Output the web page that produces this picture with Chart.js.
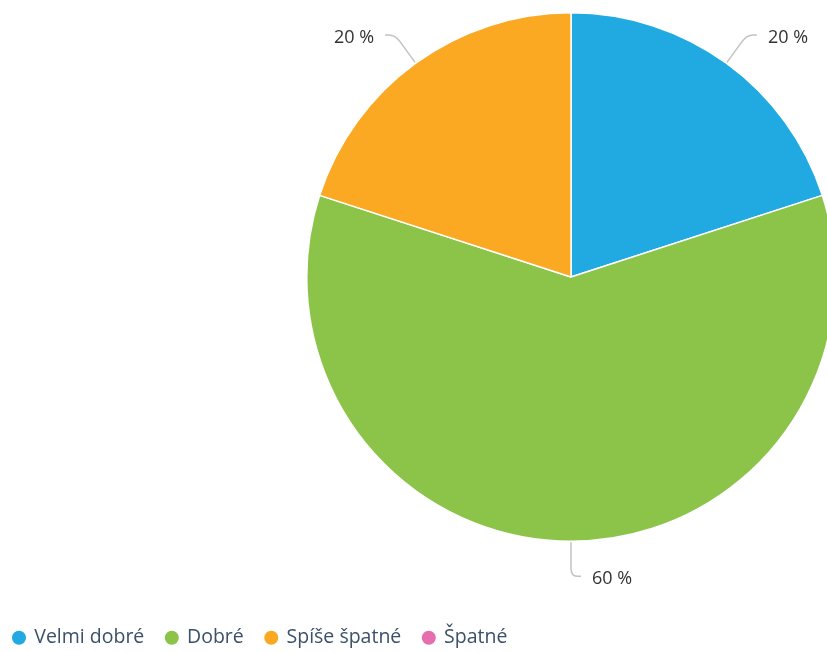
<!DOCTYPE html>
<html>
<head>
<meta charset="utf-8">
<script src="https://cdn.jsdelivr.net/npm/chart.js@4/dist/chart.umd.min.js"></script>
<style>
html,body{margin:0;padding:0;background:#fff;overflow:hidden;width:827px;height:652px;}
#wrap{position:absolute;left:0;top:0;width:1142px;height:652px;}
</style>
</head>
<body>
<div id="wrap"><canvas id="c" width="1142" height="652"></canvas></div>
<script>
const categories = ["Velmi dobré", "Dobré", "Spíše špatné", "Špatné"];
const values = [20, 60, 20, 0];
const colors = ["#21a9e1", "#8bc449", "#fba823", "#e56fae"];

const areaPlugin = {
  id: 'area',
  afterLayout(chart) {
    const a = chart.chartArea;
    a.left = 0; a.right = 1142; a.width = 1142;
    a.top = 12; a.bottom = 542; a.height = 530;
  }
};

const labelPlugin = {
  id: 'outLabels',
  afterDatasetsDraw(chart) {
    const ctx = chart.ctx;
    const meta = chart.getDatasetMeta(0);
    const total = values.reduce((a, b) => a + b, 0);
    meta.data.forEach((arc, i) => {
      const v = values[i];
      if (!v) return;
      const p = arc.getProps(['x', 'y', 'startAngle', 'endAngle', 'outerRadius'], true);
      const mid = (p.startAngle + p.endAngle) / 2;
      const cx = Math.cos(mid), cy = Math.sin(mid);
      const r = p.outerRadius;
      const x0 = p.x + cx * (r + 1), y0 = p.y + cy * (r + 1);
      const x1 = p.x + cx * (r + 35), y1 = p.y + cy * (r + 35);
      const dir = cx < -0.01 ? -1 : 1;
      const bx = x1 - cx * 8, by = y1 - cy * 8;
      const x2 = x1 + dir * 10;
      ctx.save();
      ctx.strokeStyle = '#c2c2c2';
      ctx.lineWidth = 1.5;
      ctx.beginPath();
      ctx.moveTo(x0, y0);
      ctx.lineTo(bx, by);
      ctx.quadraticCurveTo(x1, y1, x1 + dir * 6, y1);
      ctx.lineTo(x2, y1);
      ctx.stroke();
      ctx.fillStyle = '#333333';
      ctx.font = '18px "Open Sans", "Noto Sans", sans-serif';
      ctx.textBaseline = 'middle';
      ctx.textAlign = dir > 0 ? 'left' : 'right';
      const pct = Math.round(v / total * 100) + ' %';
      ctx.fillText(pct, x2 + dir * 11, y1 + 2.5);
      ctx.restore();
    });
  }
};

new Chart(document.getElementById('c'), {
  type: 'pie',
  data: {
    labels: categories,
    datasets: [{
      data: values,
      backgroundColor: colors,
      borderColor: '#ffffff',
      borderWidth: 1.5,
      hoverOffset: 0
    }]
  },
  options: {
    responsive: false,
    animation: false,
    layout: { padding: { left: -8.5, bottom: -5.5 } },
    plugins: {
      tooltip: { enabled: false },
      legend: {
        position: 'bottom',
        align: 'start',
        labels: {
          usePointStyle: true,
          pointStyle: 'circle',
          boxWidth: 11,
          boxHeight: 11,
          padding: 22,
          color: '#3b5069',
          font: { family: '"Open Sans", "Noto Sans", sans-serif', size: 19.5 }
        }
      }
    }
  },
  plugins: [areaPlugin, labelPlugin]
});
</script>
</body>
</html>
